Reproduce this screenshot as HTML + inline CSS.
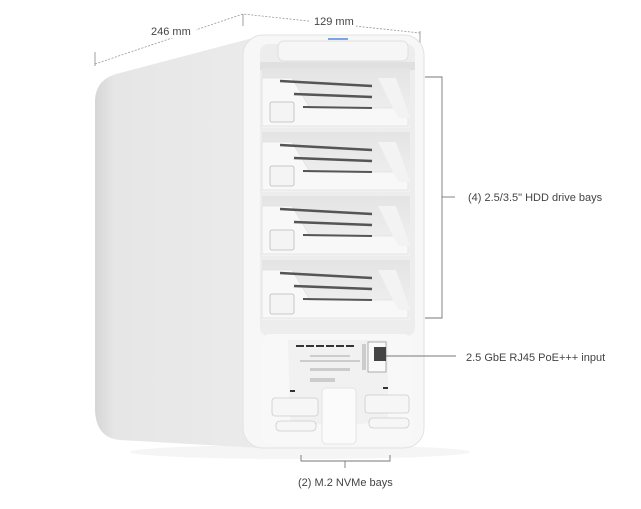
<!DOCTYPE html>
<html><head><style>
html,body{margin:0;padding:0;background:#fff;}
svg{display:block;}
text{font-family:"Liberation Sans",sans-serif;font-size:11px;fill:#444;}
</style></head><body>
<svg width="641" height="509" viewBox="0 0 641 509">
<defs>
<linearGradient id="side" x1="0" x2="1" y1="0" y2="0">
<stop offset="0" stop-color="#d6d6d6"/><stop offset="0.12" stop-color="#e6e6e6"/><stop offset="1" stop-color="#ebebeb"/>
</linearGradient>
<linearGradient id="bay" x1="0" x2="0" y1="0" y2="1">
<stop offset="0" stop-color="#e4e4e4"/><stop offset="1" stop-color="#f2f2f2"/>
</linearGradient>
</defs>
<ellipse cx="300" cy="452" rx="170" ry="7" fill="#f5f5f5"/>
<g stroke="#999" stroke-width="0.8" fill="none" stroke-dasharray="2,1.5">
<path d="M95,64 L243,14 L420,33"/>
</g>
<g stroke="#888" stroke-width="0.8">
<line x1="95" y1="52" x2="95" y2="66"/>
<line x1="243" y1="14" x2="243" y2="26"/>
<line x1="420" y1="31" x2="420" y2="45"/>
</g>
<rect x="146" y="24" width="50" height="14" fill="#fff"/>
<text x="151" y="35">246 mm</text>
<rect x="310" y="14" width="46" height="14" fill="#fff"/>
<text x="314" y="25">129 mm</text>
<path d="M120,73 L260,36 L260,448 L120,440 Q96,438 95,410 L95,100 Q96,78 120,73 Z" fill="url(#side)"/>
<rect x="243" y="35" width="181" height="413" rx="20" fill="#f7f7f7" stroke="#e2e2e2"/>
<rect x="260" y="44" width="155" height="292" rx="8" fill="#ededed"/>
<rect x="278" y="41" width="130" height="20" rx="6" fill="#f6f6f6" stroke="#e0e0e0"/>
<rect x="328" y="38" width="20" height="2" fill="#7aa6e8"/>
<rect x="260" y="62" width="155" height="8" fill="#e0e0e0"/>
<g id="b">
<rect x="262" y="68" width="148" height="60" fill="url(#bay)"/>
<path d="M262,78 L292,78 L310,108 L395,108 L408,118 L408,126 L262,126 Z" fill="#f8f8f8" stroke="#e0e0e0" stroke-width="0.8"/>
<line x1="280" y1="81" x2="372" y2="86" stroke="#555" stroke-width="2.5"/>
<line x1="294" y1="94" x2="372" y2="97" stroke="#555" stroke-width="2.5"/>
<line x1="303" y1="107" x2="372" y2="108" stroke="#555" stroke-width="2"/>
<path d="M378,78 L396,78 L410,118 L398,118 Z" fill="#f3f3f3"/>
<rect x="270" y="102" width="24" height="20" rx="2" fill="#f4f4f4" stroke="#bbb" stroke-width="0.8"/>
</g>
<use href="#b" y="64"/>
<use href="#b" y="128"/>
<use href="#b" y="192"/>
<rect x="262" y="334" width="150" height="110" rx="8" fill="#f8f8f8"/>
<path d="M288,340 L388,340 L388,420 Q338,430 290,420 Z" fill="#f1f1f1"/>
<g fill="#333"><rect x="296" y="345" width="8" height="2"/><rect x="306" y="345" width="8" height="2"/><rect x="316" y="345" width="8" height="2"/><rect x="326" y="345" width="8" height="2"/><rect x="336" y="345" width="8" height="2"/><rect x="346" y="345" width="8" height="2"/></g>
<g fill="#ccc"><rect x="310" y="355" width="40" height="2"/><rect x="300" y="360" width="60" height="2"/><rect x="310" y="368" width="40" height="3"/><rect x="310" y="378" width="25" height="4"/></g>
<rect x="368" y="342" width="18" height="30" fill="#fafafa" stroke="#999" stroke-width="0.8"/>
<rect x="374" y="347" width="12" height="14" fill="#444"/>
<rect x="362" y="344" width="4" height="26" fill="#ccc"/>
<rect x="322" y="388" width="34" height="56" rx="4" fill="#fbfbfb" stroke="#e4e4e4"/>
<rect x="272" y="398" width="46" height="18" rx="3" fill="#f6f6f6" stroke="#ccc" stroke-width="0.8"/>
<rect x="365" y="395" width="44" height="18" rx="3" fill="#f6f6f6" stroke="#ccc" stroke-width="0.8"/>
<rect x="276" y="421" width="40" height="10" rx="4" fill="#f6f6f6" stroke="#ccc" stroke-width="0.8"/>
<rect x="369" y="418" width="40" height="10" rx="4" fill="#f6f6f6" stroke="#ccc" stroke-width="0.8"/>
<rect x="290" y="390" width="5" height="2" fill="#333"/><rect x="383" y="387" width="5" height="2" fill="#333"/>
<g stroke="#777" stroke-width="0.9" fill="none">
<path d="M425,77 L442,77 L442,318 L425,318"/>
<line x1="442" y1="197" x2="455" y2="197"/>
<line x1="386" y1="356" x2="456" y2="356"/>
<path d="M301,455 L301,461 L390,461 L390,455"/>
<line x1="345" y1="461" x2="345" y2="468"/>
</g>
<text x="468" y="201">(4) 2.5/3.5" HDD drive bays</text>
<text x="466" y="361">2.5 GbE RJ45 PoE+++ input</text>
<text x="298" y="486">(2) M.2 NVMe bays</text>
</svg>
</body></html>
